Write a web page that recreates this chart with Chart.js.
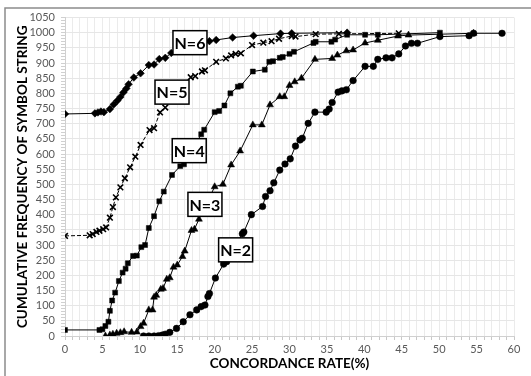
<!DOCTYPE html>
<html>
<head>
<meta charset="utf-8">
<script src="https://cdn.jsdelivr.net/npm/chart.js@4.4.1/dist/chart.umd.min.js"></script>
<style>
  html, body { margin: 0; padding: 0; background: #fff; }
  #wrap { width: 531px; height: 376px; }
</style>
</head>
<body>
<div id="wrap"><canvas id="canvas-chart" width="531" height="376"></canvas></div>
<script>
// concordance rate (%) and cumulative frequency per symbol string length
const rateN2 = [10.5, 11.2, 11.9, 12.5, 13.0, 13.4, 14.0, 14.9, 15.8, 16.7, 17.6, 18.2, 18.7, 19.1, 19.3, 20.1, 21.2, 21.6, 23.7, 23.9, 24.9, 26.4, 26.8, 27.4, 27.9, 28.7, 29.4, 30.1, 30.8, 31.4, 31.7, 32.5, 33.4, 34.9, 35.3, 35.7, 36.5, 37.0, 37.6, 38.5, 40.1, 41.2, 41.8, 42.9, 43.7, 44.6, 45.5, 46.3, 47.1, 50.1, 54.0, 54.6, 58.4];
const freqN2 = [0, 0, 0, 1, 3, 6, 12, 25, 47, 70, 86, 97, 102, 130, 140, 191, 237, 245, 337, 343, 400, 427, 460, 479, 505, 547, 567, 584, 626, 646, 652, 701, 738, 738, 748, 770, 804, 808, 812, 842, 889, 889, 912, 917, 917, 930, 956, 965, 965, 987, 990, 998, 998];

const rateN3 = [5.4, 6.0, 6.4, 6.9, 7.4, 7.9, 8.9, 9.6, 10.1, 10.5, 11.2, 11.7, 11.9, 12.2, 12.8, 13.1, 13.6, 14.0, 14.5, 15.0, 15.7, 16.0, 16.9, 17.3, 17.9, 20.0, 21.1, 22.2, 23.4, 25.1, 26.3, 27.4, 28.7, 29.3, 30.0, 30.7, 31.6, 33.4, 35.7, 36.4, 37.6, 38.5, 40.1, 41.8, 44.5, 45.9, 54.6];
const freqN3 = [0, 3, 6, 9, 11, 14, 12, 13, 31, 42, 86, 86, 128, 134, 154, 157, 187, 192, 227, 234, 262, 280, 348, 352, 385, 492, 500, 564, 610, 696, 696, 762, 789, 789, 826, 838, 850, 912, 915, 926, 940, 943, 966, 975, 989, 992, 998];

const rateN4 = [0, 4.6, 5.0, 5.4, 5.8, 6.0, 6.3, 6.7, 7.2, 7.7, 8.1, 8.4, 9.1, 9.6, 10.2, 10.7, 11.2, 11.9, 12.6, 13.2, 14.3, 15.4, 15.9, 18.2, 18.6, 20.0, 20.6, 21.3, 22.1, 23.1, 23.5, 25.1, 26.7, 27.3, 27.8, 28.7, 29.1, 30.0, 30.6, 33.2, 33.5, 35.6, 36.1, 37.7, 40.1, 41.8, 50.1];
const freqN4 = [20, 20, 22, 33, 47, 83, 117, 143, 181, 209, 222, 240, 264, 265, 293, 300, 356, 395, 444, 476, 531, 560, 566, 665, 680, 738, 742, 760, 800, 822, 825, 872, 878, 904, 906, 917, 920, 930, 937, 966, 970, 970, 977, 993, 993, 993, 1000];

const rateN5 = [0, 3.3, 3.7, 4.2, 4.6, 5.1, 5.5, 6.0, 6.4, 6.8, 7.4, 8.0, 8.7, 9.4, 10.1, 11.3, 11.9, 12.7, 13.4, 16.8, 17.4, 18.3, 18.7, 20.2, 21.5, 22.2, 22.8, 23.5, 25.0, 26.5, 27.6, 28.6, 30.3, 30.8, 33.5, 36.6, 44.6];
const freqN5 = [330, 332, 336, 343, 347, 352, 358, 390, 425, 457, 490, 520, 556, 591, 630, 679, 685, 737, 753, 853, 857, 872, 876, 904, 915, 925, 930, 932, 959, 967, 972, 980, 989, 987, 995, 996, 998];

const rateN6 = [0, 4.0, 4.4, 4.8, 5.2, 6.0, 6.5, 7.0, 7.4, 7.8, 8.2, 8.5, 9.2, 10.1, 11.2, 11.9, 12.6, 13.4, 14.2, 19.3, 20.2, 22.4, 25.2, 28.8, 30.3, 37.7];
const freqN6 = [732, 734, 737, 740, 738, 748, 763, 776, 788, 803, 816, 830, 852, 866, 893, 895, 913, 917, 933, 972, 976, 984, 990, 997, 998, 1000];

const seriesNames = ['N=2', 'N=3', 'N=4', 'N=5', 'N=6'];

function toPoints(xs, ys) {
    return xs.map((v, i) => ({ x: v, y: ys[i] }));
}

// where the boxed labels sit, in axis units
const boxPlaces = [
    { x: 22.8, y: 284 },
    { x: 18.7, y: 434 },
    { x: 16.6, y: 611 },
    { x: 14.3, y: 804 },
    { x: 16.7, y: 967 }
];

const boxLabels = {
    id: 'boxLabels',
    afterDatasetsDraw(chart) {
        const { ctx, scales: { x, y } } = chart;
        ctx.save();
        ctx.font = 'bold 16px Lato';
        ctx.textAlign = 'center';
        ctx.textBaseline = 'middle';
        seriesNames.forEach((name, i) => {
            const px = x.getPixelForValue(boxPlaces[i].x);
            const py = y.getPixelForValue(boxPlaces[i].y);
            ctx.fillStyle = '#fff';
            ctx.fillRect(px - 17, py - 12, 34, 24);
            ctx.strokeStyle = '#000';
            ctx.lineWidth = 1.5;
            ctx.strokeRect(px - 17, py - 12, 34, 24);
            ctx.fillStyle = '#000';
            ctx.fillText(name, px, py + 1);
        });
        ctx.restore();
    }
};

const frame = {
    id: 'frame',
    beforeDraw(chart) {
        const ctx = chart.ctx;
        ctx.save();
        ctx.fillStyle = '#fff';
        ctx.fillRect(0, 0, chart.width, chart.height);
        ctx.restore();
    },
    afterDraw(chart) {
        const ctx = chart.ctx;
        ctx.save();
        ctx.strokeStyle = '#8c8c8c';
        ctx.lineWidth = 1.5;
        ctx.beginPath();
        ctx.moveTo(5, chart.height);
        ctx.lineTo(5, 8);
        ctx.lineTo(chart.width, 8);
        ctx.stroke();
        ctx.restore();
    }
};

const baseSet = {
    showLine: true,
    borderColor: '#000',
    backgroundColor: '#000',
    borderWidth: 1,
    pointBorderColor: '#000',
    pointBackgroundColor: '#000',
    pointBorderWidth: 0.5
};

Chart.defaults.font.family = 'Lato';
Chart.defaults.font.size = 11;
Chart.defaults.color = '#595959';

let ctx = document.getElementById('canvas-chart').getContext('2d');

let concordance = new Chart(ctx, {
    type: 'scatter',
    data: {
        datasets: [
            { ...baseSet, label: seriesNames[0], data: toPoints(rateN2, freqN2), pointStyle: 'circle', pointRadius: 3.3 },
            { ...baseSet, label: seriesNames[1], data: toPoints(rateN3, freqN3), pointStyle: 'triangle', pointRadius: 4 },
            { ...baseSet, label: seriesNames[2], data: toPoints(rateN4, freqN4), pointStyle: 'rect', pointRadius: 3.5 },
            { ...baseSet, label: seriesNames[3], data: toPoints(rateN5, freqN5), pointStyle: 'crossRot', pointRadius: 4, pointBorderWidth: 1.6, borderDash: [4, 2] },
            { ...baseSet, label: seriesNames[4], data: toPoints(rateN6, freqN6), pointStyle: 'rectRot', pointRadius: 3.8 }
        ]
    },
    options: {
        responsive: false,
        animation: false,
        layout: {
            padding: { left: 15, right: 17, top: 17.5, bottom: 4 }
        },
        plugins: {
            legend: { display: false },
            tooltip: { enabled: false }
        },
        scales: {
            x: {
                type: 'linear',
                min: 0,
                max: 60,
                afterFit(scale) { scale.height = 36; },
                ticks: {
                    stepSize: 1,
                    autoSkip: false,
                    maxRotation: 0,
                    padding: 3,
                    callback: v => (v % 5 === 0 ? String(v) : '')
                },
                grid: {
                    color: '#ebebeb',
                    tickColor: '#c8c8c8',
                    tickLength: 4
                },
                border: { color: '#d0d0d0' },
                title: {
                    display: true,
                    text: 'CONCORDANCE RATE(%)',
                    color: '#000',
                    font: { size: 13.5, weight: 'bold' },
                    padding: { top: 4, bottom: 0 }
                }
            },
            y: {
                min: 0,
                max: 1050,
                afterFit(scale) { scale.width = 50; },
                ticks: {
                    stepSize: 10,
                    autoSkip: false,
                    padding: 6,
                    callback: v => (v % 50 === 0 ? String(v) : '')
                },
                grid: {
                    color: c => (c.tick && c.tick.value % 50 === 0 ? '#e6e6e6' : 'rgba(0,0,0,0)'),
                    tickColor: '#d0d0d0',
                    tickLength: 4
                },
                border: { color: '#d0d0d0' },
                title: {
                    display: true,
                    text: 'CUMULATIVE FREQUENCY OF SYMBOL STRING',
                    color: '#000',
                    font: { size: 13.5, weight: 'bold' },
                    padding: { top: 0, bottom: 2 }
                }
            }
        }
    },
    plugins: [frame, boxLabels]
});
</script>
</body>
</html>
